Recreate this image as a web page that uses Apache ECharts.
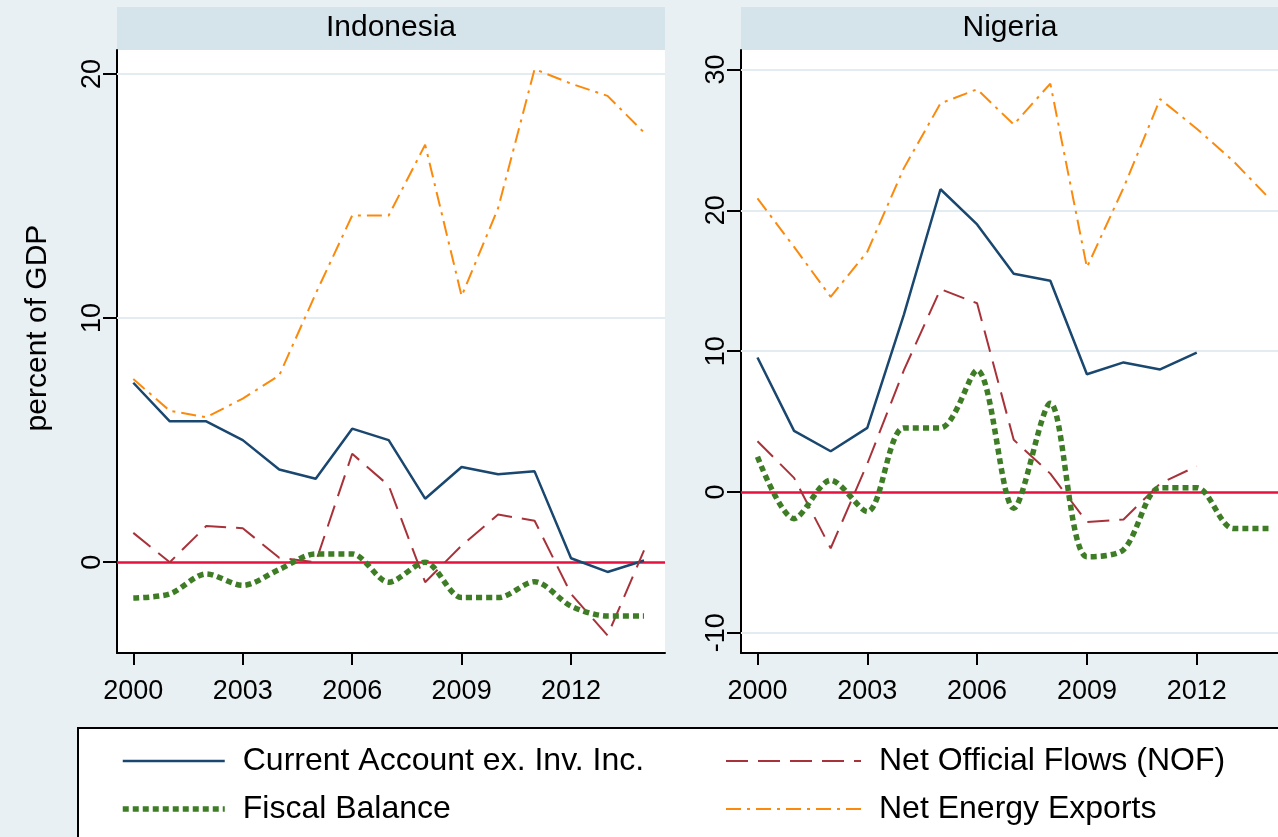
<!DOCTYPE html>
<html>
<head>
<meta charset="utf-8">
<script src="https://cdn.jsdelivr.net/npm/echarts@6/dist/echarts.min.js"></script>
<style>
  html, body { margin: 0; padding: 0; background: #e8f0f3; }
  #chart { width: 1278px; height: 837px; }
</style>
</head>
<body>
<div id="chart"></div>
<script>
  // years and tick labels
  const years = [2000, 2001, 2002, 2003, 2004, 2005, 2006, 2007, 2008, 2009, 2010, 2011, 2012, 2013, 2014];
  const xTicks = [2000, 2003, 2006, 2009, 2012];
  const idnTicks = [0, 10, 20];
  const ngaTicks = [-10, 0, 10, 20, 30];

  // Indonesia
  const idnCurrentAccount = [7.35, 5.77, 5.77, 5.0, 3.8, 3.42, 5.47, 5.0, 2.6, 3.9, 3.6, 3.72, 0.16, -0.4, 0.07];
  const idnOfficialFlows = [1.2, 0.0, 1.48, 1.39, 0.18, 0.0, 4.44, 3.14, -0.82, 0.68, 1.95, 1.7, -1.3, -3.0, 0.48];
  const idnFiscal = [-1.47, -1.3, -0.48, -0.95, -0.3, 0.34, 0.34, -0.82, 0.0, -1.45, -1.45, -0.8, -1.8, -2.2, -2.2];
  const idnEnergy = [7.5, 6.2, 5.94, 6.7, 7.65, 11.0, 14.2, 14.2, 17.1, 10.9, 14.5, 20.2, 19.6, 19.1, 17.6];

  // Nigeria
  const ngaCurrentAccount = [9.55, 4.34, 2.89, 4.55, 12.6, 21.5, 19.0, 15.5, 15.0, 8.36, 9.2, 8.7, 9.9, null, null];
  const ngaOfficialFlows = [3.6, 1.0, -4.0, 2.0, 8.65, 14.4, 13.4, 3.7, 1.3, -2.13, -1.96, 0.6, 1.83, null, null];
  const ngaFiscal = [2.5, -1.9, 0.83, -1.4, 4.55, 4.55, 8.65, -1.16, 6.3, -4.6, -4.1, 0.3, 0.3, -2.6, -2.6];
  const ngaEnergy = [20.85, 17.4, 13.86, 17.06, 23.0, 27.6, 28.6, 26.1, 29.0, 15.95, 21.6, 27.9, 25.8, 23.5, 20.8];

  const names = ['Current Account ex. Inv. Inc.', 'Net Official Flows (NOF)', 'Fiscal Balance', 'Net Energy Exports'];

  const font = "'Liberation Sans', Arial, sans-serif";

  function pairs(vals) {
    return years.map((y, i) => [y, vals[i]]).filter(p => p[1] !== null);
  }

  const styles = [
    { color: '#1a476f', width: 2.5, type: 'solid' },
    { color: '#a8323a', width: 2, type: [22, 10] },
    { color: '#3e7d26', width: 5.5, type: [6, 4] },
    { color: '#fb8a0c', width: 2, type: [15, 6, 3, 6] }
  ];

  function makeSeries(idx, panelData, ticks) {
    let out = [];
    for (let i = 0; i < panelData.length; i++) {
      let s = {
        name: names[i],
        type: 'line',
        xAxisIndex: idx,
        yAxisIndex: idx,
        symbol: 'none',
        smooth: i === 2 ? 0.3 : false,
        color: styles[i].color,
        lineStyle: { color: styles[i].color, width: styles[i].width, type: styles[i].type, cap: 'butt' },
        data: pairs(panelData[i]),
        z: 3
      };
      if (i === 0) {
        s.markLine = {
          silent: true,
          symbol: 'none',
          label: { show: false },
          z: 1,
          lineStyle: { color: '#e3ecf0', width: 2, type: 'solid' },
          data: ticks.filter(t => t !== 0).map(t => ({ yAxis: t }))
        };
      }
      if (i === 1) {
        s.markLine = {
          silent: true,
          symbol: 'none',
          label: { show: false },
          z: 2,
          lineStyle: { color: '#e8103f', width: 2.5, type: 'solid' },
          data: [{ yAxis: 0 }]
        };
      }
      out.push(s);
    }
    return out;
  }

  function xAxisOpt(idx, min, max) {
    return {
      type: 'value',
      gridIndex: idx,
      min: min,
      max: max,
      axisLine: { onZero: false, lineStyle: { color: '#000', width: 2 } },
      axisTick: { length: 12, lineStyle: { color: '#000', width: 2 }, customValues: xTicks },
      axisLabel: { customValues: xTicks, formatter: v => String(v), color: '#000', fontSize: 27, fontFamily: font, margin: 25 },
      splitLine: { show: false }
    };
  }

  function yAxisOpt(idx, min, max, ticks) {
    return {
      type: 'value',
      gridIndex: idx,
      min: min,
      max: max,
      axisLine: { show: true, onZero: false, lineStyle: { color: '#000', width: 2 } },
      axisTick: { show: true, length: 14, lineStyle: { color: '#000', width: 2 }, customValues: ticks },
      axisLabel: { customValues: ticks, rotate: 90, color: '#000', fontSize: 27, fontFamily: font, margin: 11 },
      splitLine: { show: false }
    };
  }

  function legendItem(i) {
    return {
      name: names[i],
      lineStyle: { color: styles[i].color, width: styles[i].width, type: styles[i].type, cap: 'butt' }
    };
  }

  const legendBase = {
    orient: 'vertical',
    top: 744,
    padding: 0,
    itemHeight: 14,
    itemGap: 14,
    selectedMode: false,
    itemStyle: { opacity: 0 },
    textStyle: { fontSize: 32, lineHeight: 34, color: '#000', fontFamily: font, padding: [0, 0, 0, 13] }
  };

  const chart = echarts.init(document.getElementById('chart'));

  chart.setOption({
    backgroundColor: '#e8f0f3',
    animation: false,
    textStyle: { fontFamily: font },
    grid: [
      { left: 117, top: 50, width: 548, height: 603, backgroundColor: '#fff', show: true, borderWidth: 0 },
      { left: 741, top: 50, width: 537, height: 603, backgroundColor: '#fff', show: true, borderWidth: 0 }
    ],
    xAxis: [xAxisOpt(0, 1999.553, 2014.575), xAxisOpt(1, 1999.55, 2014.22)],
    yAxis: [yAxisOpt(0, -3.72, 20.98, idnTicks), yAxisOpt(1, -11.44, 31.39, ngaTicks)],
    legend: [
      Object.assign({}, legendBase, { data: [legendItem(0), legendItem(2)], left: 120, itemWidth: 102 }),
      Object.assign({}, legendBase, { data: [legendItem(1), legendItem(3)], left: 725, itemWidth: 135 })
    ],
    graphic: [
      { type: 'rect', z: -1, shape: { x: 117, y: 7, width: 548, height: 43 }, style: { fill: '#d5e4eb' } },
      { type: 'text', x: 391, y: 28, style: { text: 'Indonesia', fontSize: 30, fontFamily: font, fill: '#000', textAlign: 'center', textVerticalAlign: 'middle' } },
      { type: 'rect', z: -1, shape: { x: 741, y: 7, width: 537, height: 43 }, style: { fill: '#d5e4eb' } },
      { type: 'text', x: 1010, y: 28, style: { text: 'Nigeria', fontSize: 30, fontFamily: font, fill: '#000', textAlign: 'center', textVerticalAlign: 'middle' } },
      { type: 'text', x: 38, y: 328, rotation: Math.PI / 2, style: { text: 'percent of GDP', fontSize: 30, fontFamily: font, fill: '#000', textAlign: 'center', textVerticalAlign: 'middle' } },
      { type: 'rect', z: -1, shape: { x: 78, y: 728, width: 1230, height: 130 }, style: { fill: '#fff', stroke: '#000', lineWidth: 2 } }
    ],
    series: makeSeries(0, [idnCurrentAccount, idnOfficialFlows, idnFiscal, idnEnergy], idnTicks)
      .concat(makeSeries(1, [ngaCurrentAccount, ngaOfficialFlows, ngaFiscal, ngaEnergy], ngaTicks))
  });
</script>
</body>
</html>
